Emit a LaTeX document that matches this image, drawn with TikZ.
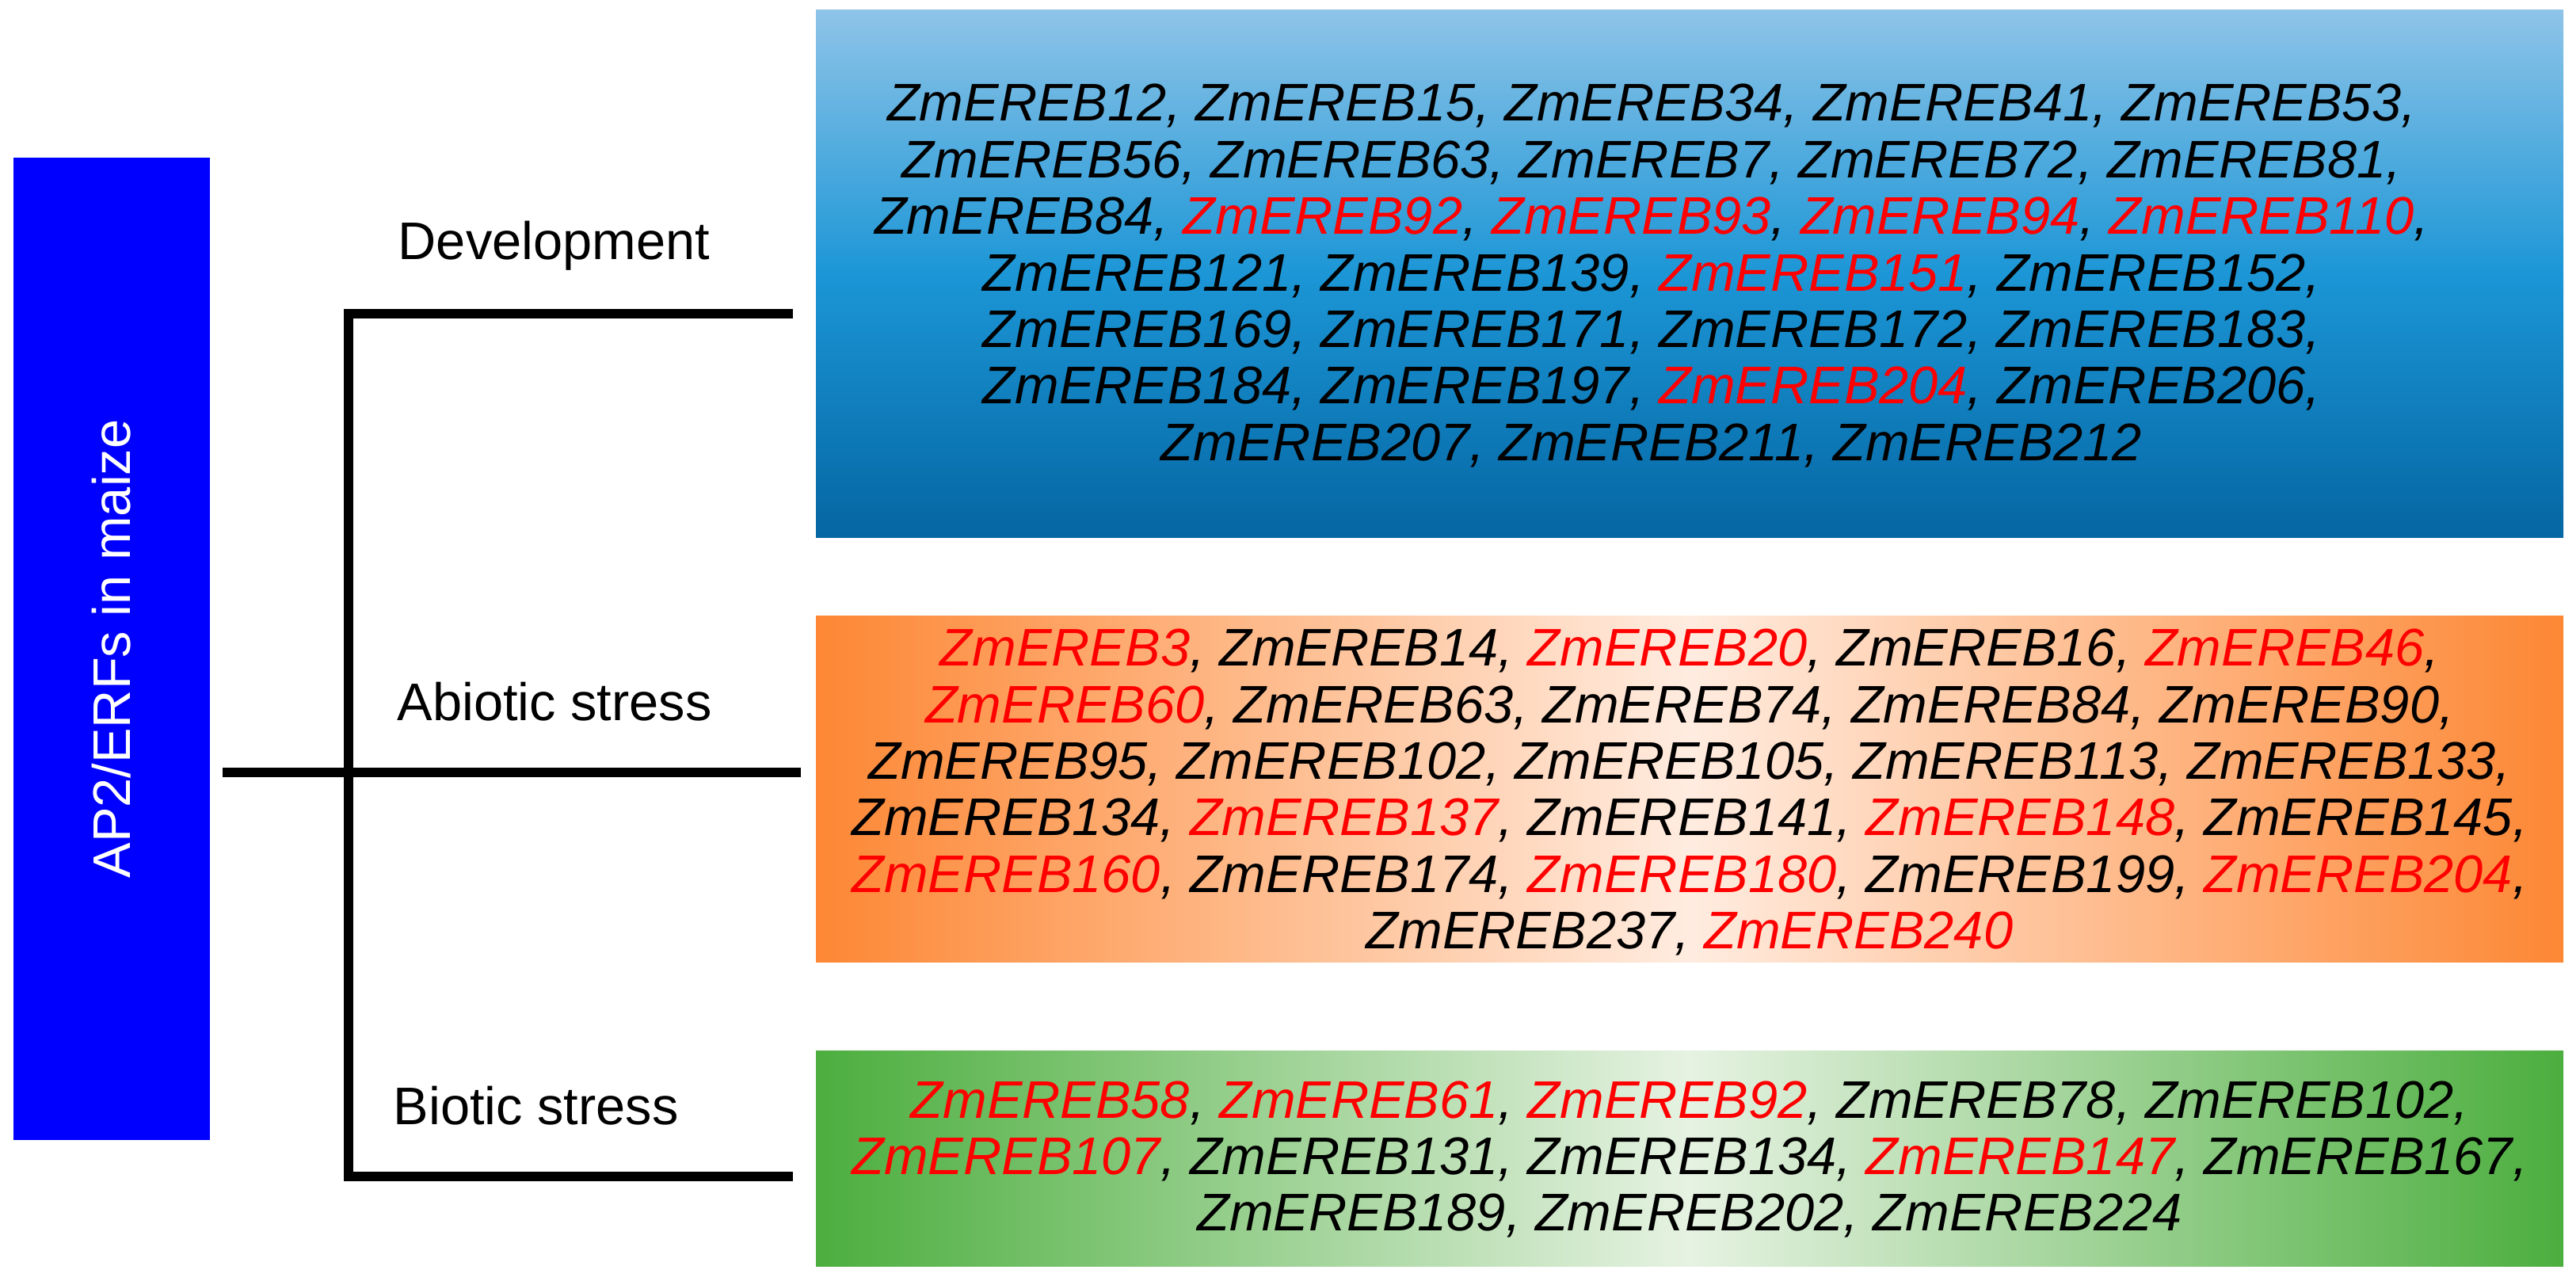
\documentclass[tikz,border=0pt]{standalone}
\usepackage{fontspec}
\setmainfont{Liberation Sans}
\newcommand{\hl}[1]{\textcolor{red}{#1}}
\tikzset{
  genebox/.style={rectangle, inner sep=0pt, minimum width=22.06cm},
  genetext/.style={align=center, font=\fontsize{19}{20.3}\selectfont\itshape},
  catlabel/.style={anchor=base west, inner sep=0pt, font=\fontsize{19}{22}\selectfont},
  branch/.style={line width=3.4pt}
}
\begin{document}
\begin{tikzpicture}
    % Define colors
    \definecolor{devtop}{RGB}{142, 196, 232}
    \definecolor{devmid}{RGB}{28, 150, 214}
    \definecolor{devbot}{RGB}{5, 102, 163}
    \definecolor{absedge}{RGB}{253, 135, 52}
    \definecolor{absmid}{RGB}{255, 236, 224}
    \definecolor{bioedge}{RGB}{76, 174, 62}
    \definecolor{biomid}{RGB}{230, 242, 226}

    \useasboundingbox (0,0) rectangle (32.52,16.22);

    % Root box
    \node[fill=blue, text=white, rotate=90, minimum width=12.40cm, minimum height=2.48cm,
          inner sep=0pt, font=\fontsize{19}{22}\selectfont] (root) at (1.41,8.03) {AP2/ERFs in maize};

    % Gene boxes
    \node[genebox, minimum height=6.66cm, top color=devtop, bottom color=devbot, middle color=devmid] (devbox) at (21.33,12.76) {};
    \node[genebox, minimum height=4.37cm, left color=absedge, right color=absedge, middle color=absmid] (absbox) at (21.33,6.255) {};
    \node[genebox, minimum height=2.72cm, left color=bioedge, right color=bioedge, middle color=biomid] (biobox) at (21.33,1.595) {};

    % Gene lists
    \node[genetext] (devgenes) at (20.85,12.74) {%
        ZmEREB12, ZmEREB15, ZmEREB34, ZmEREB41, ZmEREB53,\\
        ZmEREB56, ZmEREB63, ZmEREB7, ZmEREB72, ZmEREB81,\\
        ZmEREB84, \hl{ZmEREB92}, \hl{ZmEREB93}, \hl{ZmEREB94}, \hl{ZmEREB110},\\
        ZmEREB121, ZmEREB139, \hl{ZmEREB151}, ZmEREB152,\\
        ZmEREB169, ZmEREB171, ZmEREB172, ZmEREB183,\\
        ZmEREB184, ZmEREB197, \hl{ZmEREB204}, ZmEREB206,\\
        ZmEREB207, ZmEREB211, ZmEREB212};
    \node[genetext] (absgenes) at (21.33,6.22) {%
        \hl{ZmEREB3}, ZmEREB14, \hl{ZmEREB20}, ZmEREB16, \hl{ZmEREB46},\\
        \hl{ZmEREB60}, ZmEREB63, ZmEREB74, ZmEREB84, ZmEREB90,\\
        ZmEREB95, ZmEREB102, ZmEREB105, ZmEREB113, ZmEREB133,\\
        ZmEREB134, \hl{ZmEREB137}, ZmEREB141, \hl{ZmEREB148}, ZmEREB145,\\
        \hl{ZmEREB160}, ZmEREB174, \hl{ZmEREB180}, ZmEREB199, \hl{ZmEREB204},\\
        ZmEREB237, \hl{ZmEREB240}};
    \node[genetext] (biogenes) at (21.33,1.585) {%
        \hl{ZmEREB58}, \hl{ZmEREB61}, \hl{ZmEREB92}, ZmEREB78, ZmEREB102,\\
        \hl{ZmEREB107}, ZmEREB131, ZmEREB134, \hl{ZmEREB147}, ZmEREB167,\\
        ZmEREB189, ZmEREB202, ZmEREB224};

    % Category labels
    \node[catlabel] (devlab) at (5.02,12.94) {Development};
    \node[catlabel] (abslab) at (5.01,7.12) {Abiotic stress};
    \node[catlabel] (biolab) at (4.96,2.02) {Biotic stress};

    % Tree
    \coordinate (hub) at (4.40,6.47);
    \coordinate (topend) at (4.40,12.26);
    \coordinate (botend) at (4.40,1.37);
    \draw[branch] ([xshift=0.15cm]root.south |- hub) -- ([xshift=-0.18cm]absbox.west |- hub);
    \draw[branch] ([xshift=-0.28cm]devbox.west |- topend) -- (topend) -- (botend) -- ([xshift=-0.28cm]biobox.west |- botend);
\end{tikzpicture}
\end{document}
